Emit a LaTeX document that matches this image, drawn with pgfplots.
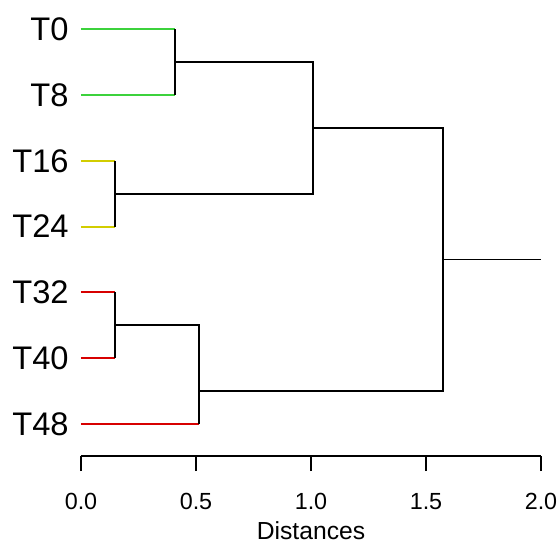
\documentclass[border=0pt]{standalone}
\usepackage{pgfplots}
\pgfplotsset{compat=1.18}
\usepackage{fontspec}
\setmainfont{Liberation Sans}
\definecolor{leafgreen}{RGB}{60,210,60}
\definecolor{leafyellow}{RGB}{210,205,0}
\definecolor{leafred}{RGB}{215,0,0}

\begin{document}
\begin{tikzpicture}
\begin{axis}[
    x=172.5pt, y=49.3pt,
    xmin=0, xmax=2,
    ymin=-6.49, ymax=0.45,
    clip=false,
    axis x line=bottom,
    axis y line=left,
    axis line style={-, line width=1pt},
    y axis line style={draw=none},
    xtick={0,0.5,1,1.5,2},
    xticklabel style={/pgf/number format/fixed, /pgf/number format/fixed zerofill, /pgf/number format/precision=1},
    xticklabel style={font=\fontsize{17.5}{17.5}\selectfont, yshift=-13pt},
    /pgf/number format/assume math mode=true,
    tick align=outside,
    major tick length=11.25pt,
    xtick style={line width=1pt, black},
    ytick={-6,-5,-4,-3,-2,-1,0},
    yticklabels={T48,T40,T32,T24,T16,T8,T0},
    ytick style={draw=none},
    yticklabel style={font=\fontsize{24.5}{24.5}\selectfont, xshift=5.5pt},
    xlabel={Distances},
    xlabel style={font=\fontsize{18.5}{18.5}\selectfont, yshift=-2pt},
    every axis plot/.append style={no marks, line width=1.4pt},
]
% leaves
\addplot[leafgreen] coordinates {(0,0) (0.409,0)};
\addplot[leafgreen] coordinates {(0,-1) (0.409,-1)};
\addplot[leafyellow] coordinates {(0,-2) (0.148,-2)};
\addplot[leafyellow] coordinates {(0,-3) (0.148,-3)};
\addplot[leafred] coordinates {(0,-4) (0.148,-4)};
\addplot[leafred] coordinates {(0,-5) (0.148,-5)};
\addplot[leafred] coordinates {(0,-6) (0.513,-6)};
% links
\addplot[black] coordinates {(0.409,0) (0.409,-1)};
\addplot[black] coordinates {(0.148,-2) (0.148,-3)};
\addplot[black] coordinates {(0.409,-0.5) (1.009,-0.5) (1.009,-2.5) (0.148,-2.5)};
\addplot[black] coordinates {(0.148,-4) (0.148,-5)};
\addplot[black] coordinates {(0.148,-4.5) (0.513,-4.5) (0.513,-6)};
\addplot[black] coordinates {(1.009,-1.5) (1.574,-1.5) (1.574,-5.5) (0.513,-5.5)};
\addplot[black] coordinates {(1.574,-3.5) (2,-3.5)};
\end{axis}
% fix the page to the reference's frame
\pgfresetboundingbox
\path ([shift={(-60.75pt,-65.25pt)}]current axis.south west)
  rectangle ([shift={(357pt,342pt)}]current axis.south west);
\end{tikzpicture}
\end{document}
